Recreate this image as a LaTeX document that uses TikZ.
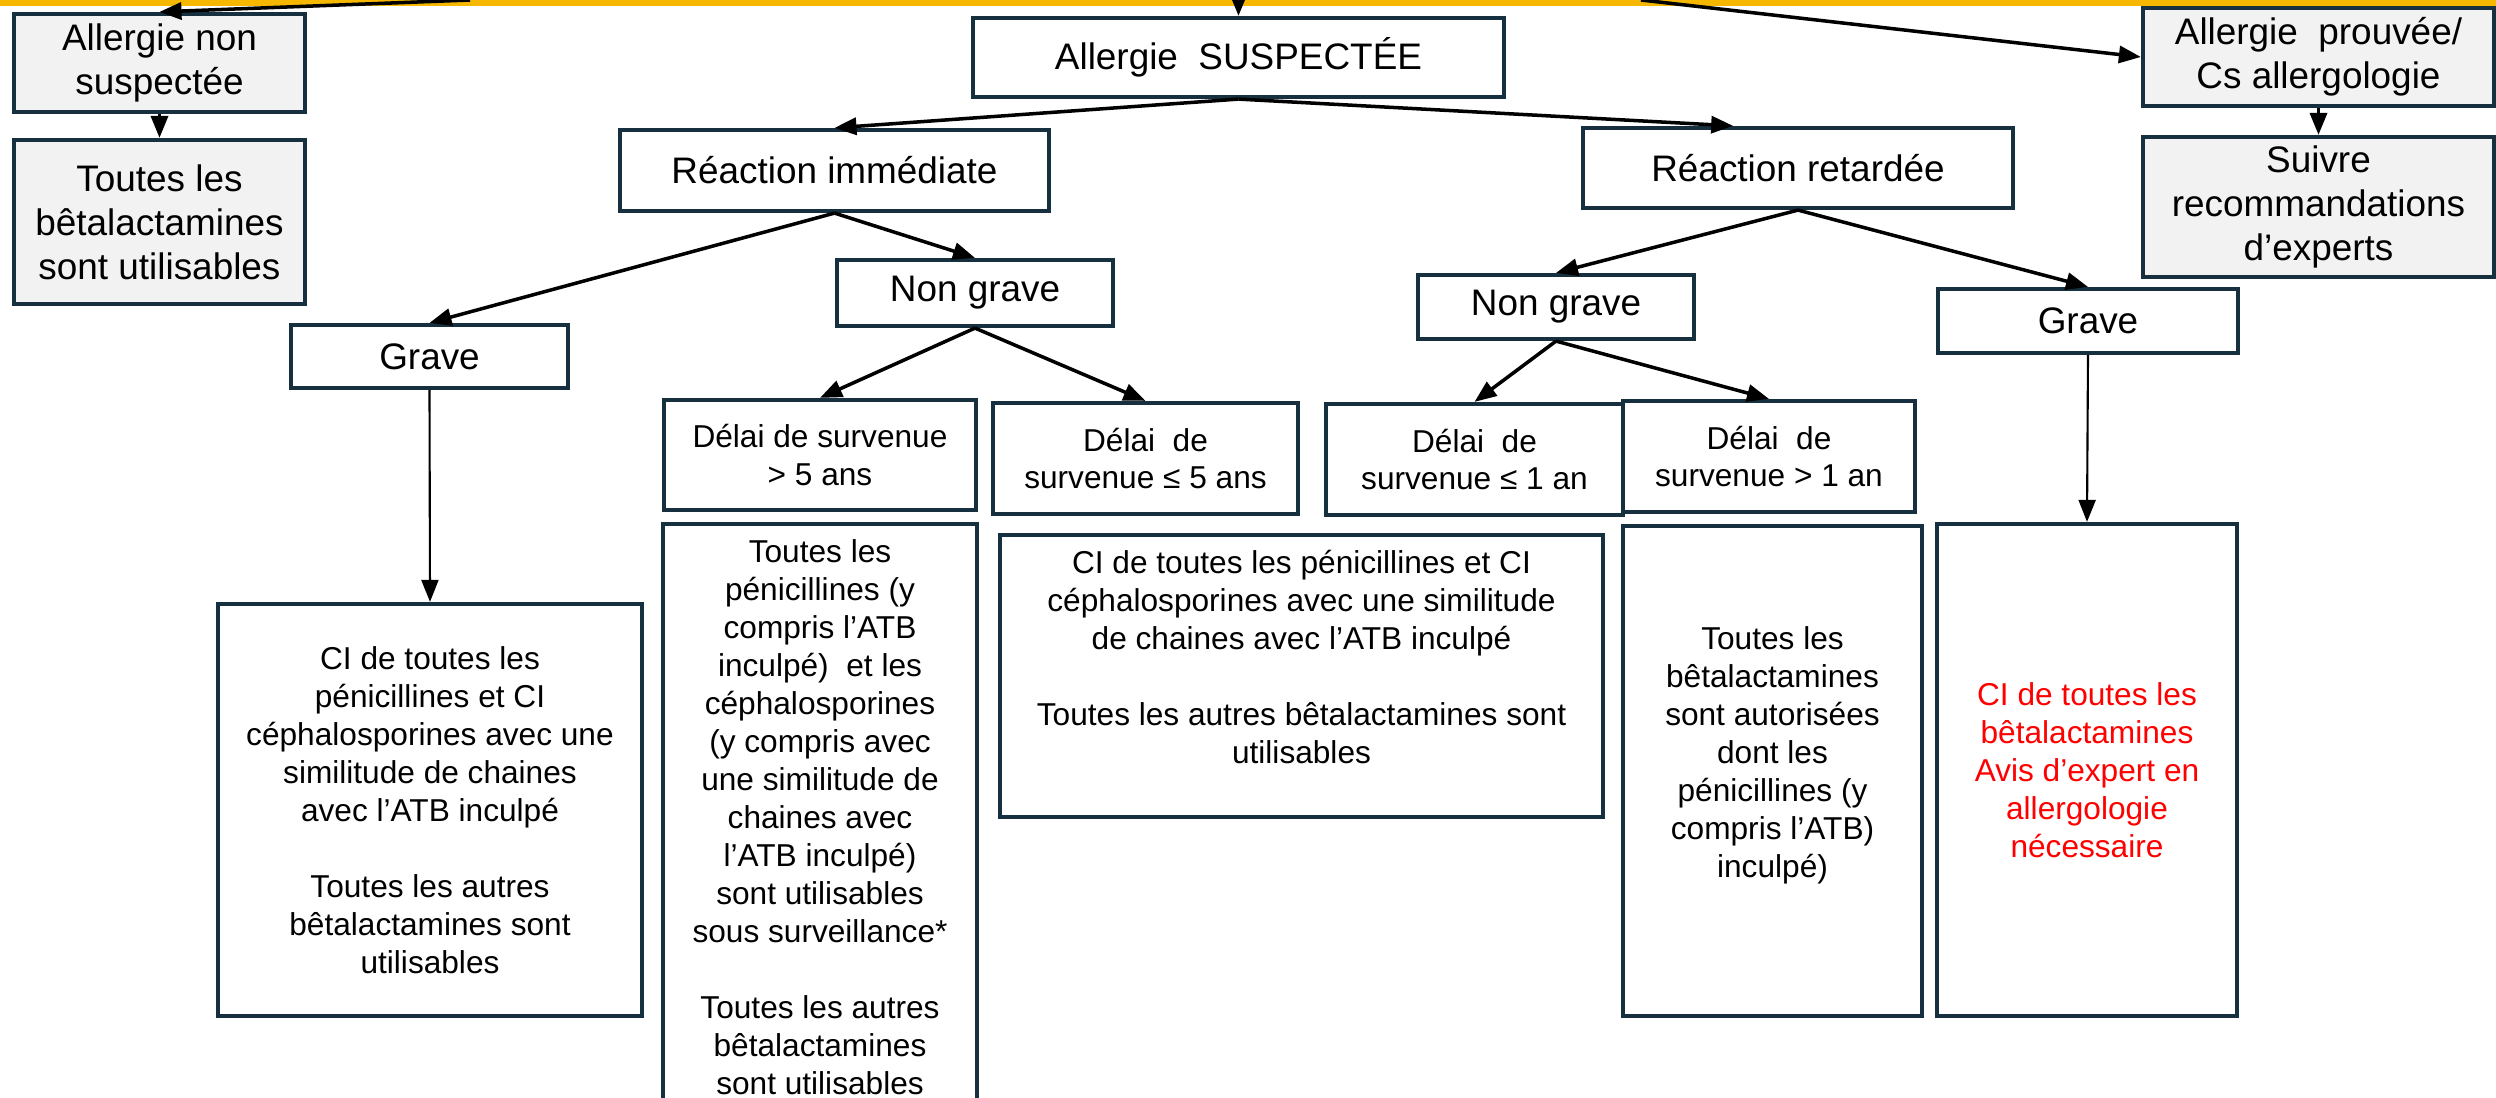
\documentclass[tikz,border=0pt]{standalone}
\usepackage{fontspec}
\setmainfont{Liberation Sans}
\usetikzlibrary{arrows.meta}
\definecolor{bandyellow}{HTML}{F5B700}
\definecolor{boxline}{HTML}{17303F}
\definecolor{boxgray}{HTML}{F2F2F2}
\tikzset{
	box/.style={draw=boxline, line width=1.2pt, fill=white, inner sep=0pt, align=center, font=\fontsize{10.5}{12.5}\selectfont},
	greybox/.style={box, fill=boxgray},
	smallbox/.style={box, font=\fontsize{9}{10.8}\selectfont},
	arr/.style={-{Triangle[length=2.2mm,width=1.7mm]}, line width=1pt, black},
	thinarr/.style={arr, line width=0.6pt},
}

\begin{document}
\begin{tikzpicture}
			\useasboundingbox[fill=white] (0,0) rectangle (24.96,-10.98);
			%%%%% START %%%%%
			
			\fill[bandyellow] (0,0) rectangle (24.96,-0.06);
			\coordinate (topNS) at (4.70,0);
			\coordinate (topSusp) at (12.385,0);
			\coordinate (topPr) at (16.41,0);
			
			% left column
			\node[greybox, minimum width=2.91cm, minimum height=0.98cm] (nonsusp) at (1.595,-0.63) {Allergie non\\suspectée};
			\node[greybox, minimum width=2.91cm, minimum height=1.64cm] (toutesNS) at (1.595,-2.22) {Toutes les\\bêtalactamines\\sont utilisables};
			
			% right column
			\node[greybox, minimum width=3.51cm, minimum height=0.98cm] (prouvee) at (23.185,-0.57) {Allergie~ prouvée/\\Cs allergologie};
			\node[greybox, minimum width=3.51cm, minimum height=1.40cm] (suivre) at (23.185,-2.07) {Suivre\\recommandations\\d’experts};
			
			% suspected
			\node[box, minimum width=5.31cm, minimum height=0.79cm] (susp) at (12.385,-0.575) {Allergie~ SUSPECTÉE};
			\node[box, minimum width=4.29cm, minimum height=0.81cm] (rimm) at (8.345,-1.705) {Réaction immédiate};
			\node[box, minimum width=4.30cm, minimum height=0.80cm] (rret) at (17.98,-1.68) {Réaction retardée};
			
			\node[box, minimum width=2.77cm, minimum height=0.63cm] (graveL) at (4.295,-3.565) {Grave};
			\node[box, minimum width=2.76cm, minimum height=0.66cm] (ngL) at (9.75,-2.93) {Non grave};
			\node[box, minimum width=2.76cm, minimum height=0.64cm] (ngR) at (15.56,-3.07) {Non grave};
			\node[box, minimum width=3.00cm, minimum height=0.64cm] (graveR) at (20.88,-3.21) {Grave};
			
			\node[smallbox, minimum width=3.12cm, minimum height=1.10cm] (d5plus) at (8.20,-4.55) {Délai de survenue\\> 5 ans};
			\node[smallbox, minimum width=3.05cm, minimum height=1.11cm] (d5moins) at (11.455,-4.585) {Délai~ de\\survenue ≤ 5 ans};
			\node[smallbox, minimum width=2.97cm, minimum height=1.11cm] (d1moins) at (14.745,-4.595) {Délai~ de\\survenue ≤ 1 an};
			\node[smallbox, minimum width=2.92cm, minimum height=1.11cm] (d1plus) at (17.69,-4.565) {Délai~ de\\survenue > 1 an};
			
			\node[smallbox, minimum width=4.24cm, minimum height=4.12cm] (bigL) at (4.30,-8.10) {CI de toutes les\\pénicillines et CI\\céphalosporines avec une\\similitude de chaines\\avec l’ATB inculpé\\[10.8pt]Toutes les autres\\bêtalactamines sont\\utilisables};
			\node[smallbox, minimum width=3.14cm, minimum height=5.86cm] (penic) at (8.20,-8.17) {Toutes les\\pénicillines (y\\compris l’ATB\\inculpé)~ et les\\céphalosporines\\(y compris avec\\une similitude de\\chaines avec\\l’ATB inculpé)\\sont utilisables\\sous surveillance*\\[10.8pt]Toutes les autres\\bêtalactamines\\sont utilisables};
			\node[smallbox, minimum width=6.03cm, minimum height=2.82cm] (CImid) at (13.015,-6.76) {CI de toutes les pénicillines et CI\\céphalosporines avec une similitude\\de chaines avec l’ATB inculpé\\[10.8pt]Toutes les autres bêtalactamines sont\\utilisables\\~};
			\node[smallbox, minimum width=2.99cm, minimum height=4.90cm] (toutesAut) at (17.725,-7.71) {Toutes les\\bêtalactamines\\sont autorisées\\dont les\\pénicillines (y\\compris l’ATB)\\inculpé)\\~};
			\node[smallbox, text=red, minimum width=3.00cm, minimum height=4.92cm] (CIred) at (20.87,-7.70) {CI de toutes les\\bêtalactamines\\Avis d’expert en\\allergologie\\nécessaire};
			
			% arrows
			\draw[arr] (topNS) -- (nonsusp.north);
			\draw[arr] (topSusp) -- (susp.north);
			\draw[arr] (topPr) -- (prouvee.west);
			\draw[arr] (nonsusp.south) -- (toutesNS.north);
			\draw[arr] (prouvee.south) -- (suivre.north);
			\draw[arr] (susp.south) -- (rimm.north);
			\draw[arr] (susp.south) -- (rret.147);
			\draw[arr] (rimm.south) -- (graveL.north);
			\draw[arr] (rimm.south) -- (ngL.north);
			\draw[arr] (rret.south) -- (ngR.north);
			\draw[arr] (rret.south) -- (graveR.north);
			\draw[arr] (ngL.south) -- (d5plus.north);
			\draw[arr] (ngL.south) -- (d5moins.north);
			\draw[arr] (ngR.south) -- (d1moins.north);
			\draw[arr] (ngR.south) -- (d1plus.north);
			\draw[thinarr] (graveL.south) -- (bigL.north);
			\draw[thinarr] (graveR.south) -- (CIred.north);
			
			%%%%% END %%%%%
\end{tikzpicture}
\end{document}
